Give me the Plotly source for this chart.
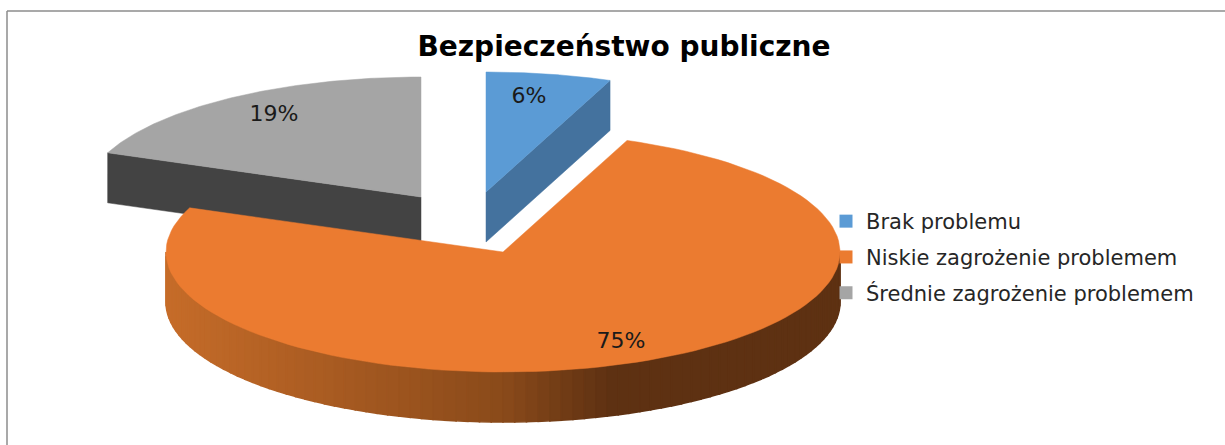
import math
import plotly.graph_objects as go

# Data
categories = ["Brak problemu", "Niskie zagrożenie problemem", "Średnie zagrożenie problemem"]
values = [6, 75, 19]
labels = ["6%", "75%", "19%"]

# Styles / geometry of the 3D projection (pixel-mapped axes)
W, H = 1225, 445
top_colors = ["#5B9BD5", "#EB7B30", "#A5A5A5"]
side_colors = ["#44729E", "#C66B29", "#434343"]
centers = [(486, 192), (503, 252), (421, 197)]
RX, RY, DEPTH = 337, 120, 50
label_pos = [(529, 97), (621, 342), (274, 115)]
FONT = "DejaVu Sans"

total = sum(values)
bounds = [0.0]
for v in values:
    bounds.append(bounds[-1] + 360.0 * v / total)


def pt(c, deg, dy=0):
    a = math.radians(deg)
    return c[0] + RX * math.sin(a), c[1] - RY * math.cos(a) + dy


def arc(c, a0, a1, dy=0, n=120):
    pts = [pt(c, a0 + (a1 - a0) * i / n, dy) for i in range(n + 1)]
    return [p[0] for p in pts], [p[1] for p in pts]


def poly(xs, ys, color, lw=0.5):
    return go.Scatter(x=xs, y=ys, mode="lines", fill="toself", fillcolor=color,
                      line=dict(color=color, width=lw), showlegend=False, hoverinfo="skip")


def wedge(i):
    c = centers[i]
    xs, ys = arc(c, bounds[i], bounds[i + 1])
    return poly([c[0]] + xs + [c[0]], [c[1]] + ys + [c[1]], top_colors[i])


def radial_side(i, deg):
    c = centers[i]
    x, y = pt(c, deg)
    return poly([c[0], x, x, c[0], c[0]], [c[1], y, y + DEPTH, c[1] + DEPTH, c[1]], side_colors[i])


def mix(a, b, t):
    return "rgb(%d,%d,%d)" % tuple(round(a[k] + (b[k] - a[k]) * t) for k in range(3))


fig = go.Figure()

# Grey slice (back left)
fig.add_trace(radial_side(2, bounds[2]))
fig.add_trace(wedge(2))
# Blue slice (back right)
fig.add_trace(radial_side(0, bounds[1]))
fig.add_trace(wedge(0))

# Orange slice: shaded rim drawn as strips
c = centers[1]
rim_start = (198, 108, 41)
rim_mid = (138, 74, 26)
rim_end = (94, 49, 18)
n_strips = 90
for s in range(n_strips):
    a0 = 270 - 180 * s / n_strips
    a1 = 270 - 180 * (s + 1) / n_strips
    xt, yt = arc(c, a0, a1, 0, 6)
    xb, yb = arc(c, a1, a0, DEPTH, 6)
    xm = (xt[0] + xt[-1]) / 2
    f = (xm - (c[0] - RX)) / (2 * RX)
    if f < 0.5:
        col = mix(rim_start, rim_mid, f / 0.5)
    elif f < 0.66:
        col = mix(rim_mid, rim_end, (f - 0.5) / 0.16)
    else:
        col = mix(rim_end, rim_end, 0)
    fig.add_trace(poly(xt + xb + [xt[0]], yt + yb + [yt[0]], col, lw=1.6))
fig.add_trace(wedge(1))

# Percent labels
fig.add_trace(go.Scatter(x=[p[0] for p in label_pos], y=[p[1] for p in label_pos], text=labels,
                         mode="text", textposition="middle center",
                         textfont=dict(family=FONT, size=22, color="#1a1a1a"),
                         showlegend=False, hoverinfo="skip"))

# Legend entries
for i, name in enumerate(categories):
    fig.add_trace(go.Scatter(x=[None], y=[None], mode="markers", name=name, legendgroup=name,
                             marker=dict(symbol="square", size=13, color=top_colors[i])))

fig.update_layout(
    width=W, height=H, margin=dict(l=0, r=0, t=0, b=0),
    paper_bgcolor="white", plot_bgcolor="white",
    title=dict(text="<b>Bezpieczeństwo publiczne</b>", x=624 / W, y=1 - 46 / H,
               xanchor="center", yanchor="middle",
               font=dict(family=FONT, size=28, color="black")),
    xaxis=dict(range=[0, W], visible=False, domain=[0, 1], fixedrange=True),
    yaxis=dict(range=[H, 0], visible=False, domain=[0, 1], fixedrange=True),
    legend=dict(x=826 / W, y=1 - 201 / H, xanchor="left", yanchor="top",
                bgcolor="rgba(0,0,0,0)", tracegroupgap=5.5,
                font=dict(family=FONT, size=21, color="#262626")),
    shapes=[
        dict(type="line", xref="paper", yref="paper", x0=7 / W, x1=7 / W, y0=0, y1=1 - 11 / H,
             line=dict(color="#8c8c8c", width=1.5)),
        dict(type="line", xref="paper", yref="paper", x0=7 / W, x1=1, y0=1 - 11 / H, y1=1 - 11 / H,
             line=dict(color="#8c8c8c", width=1.5)),
    ],
)

fig.write_html("out.html", config={"displayModeBar": False},
               post_script="document.body.style.margin='0';document.body.style.overflow='hidden';")
